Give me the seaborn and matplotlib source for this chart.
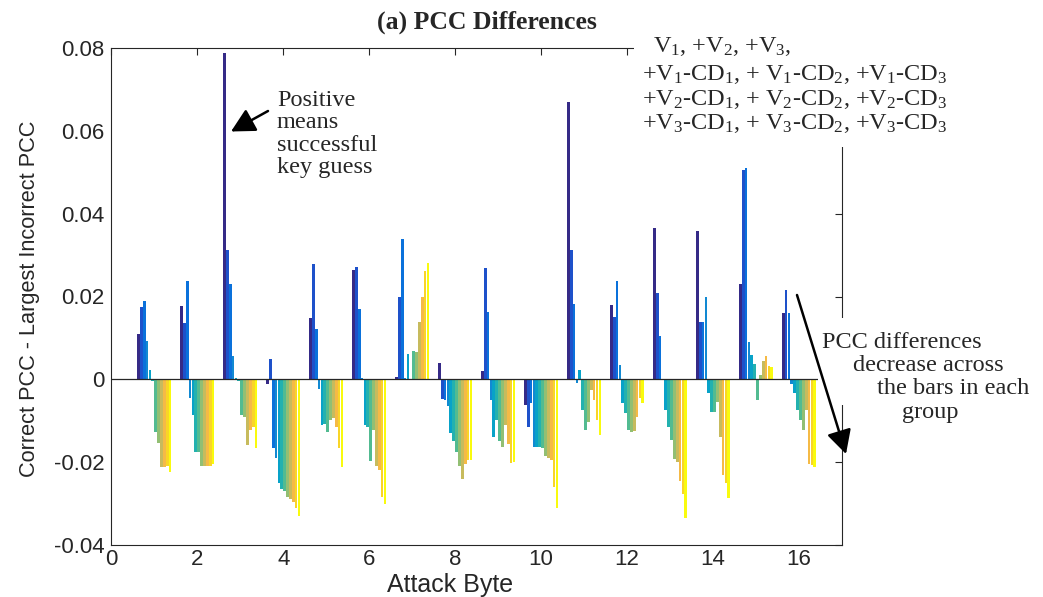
import numpy as np
import pandas as pd
import matplotlib
matplotlib.use("Agg")
import matplotlib.pyplot as plt
import seaborn as sns
from matplotlib.colors import LinearSegmentedColormap
from matplotlib.patches import Rectangle, FancyArrowPatch, ArrowStyle

# ---------------- data ----------------
attack_bytes = list(range(1, 17))
series_names = ["V1", "V2", "V3",
                "V1-CD1", "V1-CD2", "V1-CD3",
                "V2-CD1", "V2-CD2", "V2-CD3",
                "V3-CD1", "V3-CD2", "V3-CD3"]

v1 = [0.0110, 0.0176, 0.0788, -0.0012, 0.0149, 0.0265, 0.0006, 0.0039,
      0.0020, -0.0061, 0.0669, 0.0180, 0.0366, 0.0359, 0.0230, 0.0160]
v2 = [0.0174, 0.0137, 0.0312, 0.0050, 0.0279, 0.0272, 0.0200, -0.0047,
      0.0268, -0.0114, 0.0312, 0.0151, 0.0208, 0.0139, 0.0506, 0.0216]
v3 = [0.0189, 0.0238, 0.0229, -0.0165, 0.0121, 0.0171, 0.0339, -0.0050,
      0.0162, -0.0057, 0.0182, 0.0237, 0.0104, 0.0139, 0.0511, 0.0160]
v1_cd1 = [0.0092, -0.0045, 0.0057, -0.0190, -0.0024, 0.0003, 0.0003, -0.0065,
          -0.0050, -0.0163, -0.0008, 0.0034, 0.0002, 0.0200, 0.0091, -0.0012]
v1_cd2 = [0.0023, -0.0086, 0.0003, -0.0250, -0.0110, -0.0110, 0.0061, -0.0130,
          -0.0139, -0.0163, 0.0023, -0.0057, -0.0073, -0.0033, 0.0059, -0.0033]
v1_cd3 = [-0.0005, -0.0175, -0.0005, -0.0265, -0.0108, -0.0114, 0.0002, -0.0150,
          -0.0098, -0.0163, -0.0073, -0.0082, -0.0114, -0.0078, 0.0037, -0.0073]
v2_cd1 = [-0.0126, -0.0175, -0.0086, -0.0270, -0.0127, -0.0196, 0.0069, -0.0175,
          -0.0150, -0.0165, -0.0122, -0.0122, -0.0147, -0.0078, -0.0049, -0.0098]
v2_cd2 = [-0.0153, -0.0210, -0.0090, -0.0285, -0.0098, -0.0122, 0.0065, -0.0210,
          -0.0163, -0.0185, -0.0102, -0.0126, -0.0192, -0.0055, 0.0010, -0.0122]
v2_cd3 = [-0.0212, -0.0210, -0.0159, -0.0290, -0.0094, -0.0210, 0.0139, -0.0240,
          -0.0110, -0.0190, -0.0025, -0.0125, -0.0200, -0.0140, 0.0045, -0.0073]
v3_cd1 = [-0.0212, -0.0210, -0.0122, -0.0295, -0.0114, -0.0220, 0.0200, -0.0205,
          -0.0155, -0.0195, -0.0049, -0.0090, -0.0245, -0.0230, 0.0057, -0.0204]
v3_cd2 = [-0.0210, -0.0210, -0.0114, -0.0310, -0.0167, -0.0285, 0.0261, -0.0195,
          -0.0202, -0.0260, -0.0098, -0.0045, -0.0277, -0.0250, 0.0033, -0.0208]
v3_cd3 = [-0.0224, -0.0205, -0.0167, -0.0330, -0.0212, -0.0300, 0.0282, -0.0195,
          -0.0200, -0.0310, -0.0135, -0.0057, -0.0335, -0.0286, 0.0029, -0.0212]

x_ticks = [0, 2, 4, 6, 8, 10, 12, 14, 16]
x_tick_labels = ["0", "2", "4", "6", "8", "10", "12", "14", "16"]
y_ticks = [-0.04, -0.02, 0.0, 0.02, 0.04, 0.06, 0.08]
y_tick_labels = ["-0.04", "-0.02", "0", "0.02", "0.04", "0.06", "0.08"]

title_text = "(a) PCC Differences"
x_label = "Attack Byte"
y_label = "Correct PCC - Largest Incorrect PCC"
legend_lines = [
    "V$_1$, +V$_2$, +V$_3$,",
    "+V$_1$-CD$_1$, + V$_1$-CD$_2$, +V$_1$-CD$_3$",
    "+V$_2$-CD$_1$, + V$_2$-CD$_2$, +V$_2$-CD$_3$",
    "+V$_3$-CD$_1$, + V$_3$-CD$_2$, +V$_3$-CD$_3$",
]
positive_lines = ["Positive", "means", "successful", "key guess"]
decrease_lines = ["PCC differences", "decrease across", "the bars in each", "group"]

# ---------------- style ----------------
sns.set_style("white")
plt.rcParams["font.family"] = ["Liberation Sans", "DejaVu Sans"]
plt.rcParams["mathtext.fontset"] = "custom"
plt.rcParams["mathtext.rm"] = "Liberation Serif"
plt.rcParams["mathtext.it"] = "Liberation Serif:italic"
plt.rcParams["mathtext.bf"] = "Liberation Serif:bold"
plt.rcParams["mathtext.default"] = "rm"
SERIF = ["Liberation Serif", "DejaVu Serif"]
axis_gray = (0.15, 0.15, 0.15)
NOTE_SIZE = 17.5

parula_anchors = [
    (0.2081, 0.1663, 0.5292), (0.1959, 0.2645, 0.7279), (0.0117, 0.3875, 0.8820),
    (0.0793, 0.5200, 0.8312), (0.0228, 0.6535, 0.7768), (0.2178, 0.7250, 0.6193),
    (0.5709, 0.7485, 0.4494), (0.8507, 0.7299, 0.3360), (0.9739, 0.7314, 0.2666),
    (0.9880, 0.8066, 0.1794), (0.9589, 0.8949, 0.1132), (0.9763, 0.9831, 0.0538),
]
parula_pos = [0, 4/63, 8/63, 16/63, 24/63, 32/63, 40/63, 48/63, 52/63, 56/63, 60/63, 1.0]
parula = LinearSegmentedColormap.from_list("parula", list(zip(parula_pos, parula_anchors)))
palette = [parula(i / 11) for i in range(12)]

series_values = [v1, v2, v3, v1_cd1, v1_cd2, v1_cd3, v2_cd1, v2_cd2, v2_cd3,
                 v3_cd1, v3_cd2, v3_cd3]
df = pd.DataFrame({
    "byte": np.tile(attack_bytes, len(series_names)),
    "series": np.repeat(series_names, len(attack_bytes)),
    "diff": np.concatenate(series_values),
})

W, H = 1043, 597
fig = plt.figure(figsize=(W / 100, H / 100), dpi=100)
ax = fig.add_axes([111.3 / W, 1 - 545 / H, (842 - 111.3) / W, (545 - 48) / H])

sns.barplot(data=df, x="byte", y="diff", hue="series", hue_order=series_names,
            palette=palette, native_scale=True, width=0.8, gap=0.05,
            errorbar=None, legend=False, saturation=1, linewidth=0, ax=ax)

ax.axhline(0, color=axis_gray, lw=0.9, zorder=3)
ax.set_xlim(0, 17)
ax.set_ylim(-0.04, 0.08)
ax.set_xticks(x_ticks)
ax.set_xticklabels(x_tick_labels)
ax.set_yticks(y_ticks)
ax.set_yticklabels(y_tick_labels)
ax.tick_params(direction="in", top=True, right=True, length=5, width=0.8,
               colors=axis_gray, labelsize=16, pad=3)
ax.tick_params(axis="y", pad=5)
for s in ax.spines.values():
    s.set_visible(True)
    s.set_color(axis_gray)
    s.set_linewidth(0.8)
ax.set_xlabel(x_label, fontsize=18, color=axis_gray)
ax.set_ylabel(y_label, fontsize=15.7, color=axis_gray)
ax.xaxis.set_label_coords(0.463, -0.056)
ax.yaxis.set_label_coords(-0.098, 0.495)


def fx(px):
    return px / W


def fy(py):
    return 1 - py / H


# title
fig.text(fx(487), fy(22), title_text, ha="center", va="center", fontsize=18.5,
         fontweight="bold", family=SERIF)

# white legend panel covering the top-right corner of the axes
fig.add_artist(Rectangle((fx(634), fy(147)), (965 - 634) / W, (147 - 18) / H,
                         transform=fig.transFigure, facecolor="white",
                         edgecolor="none", zorder=5))
legend_pos = [(653, 52), (642, 80), (642, 105), (642, 129)]
for txt, (px, py) in zip(legend_lines, legend_pos):
    fig.text(fx(px), fy(py), txt, ha="left", va="baseline", fontsize=NOTE_SIZE,
             family=SERIF, zorder=6)

# white panel behind right-hand note
fig.add_artist(Rectangle((fx(818), fy(405)), (1000 - 818) / W, (405 - 318) / H,
                         transform=fig.transFigure, facecolor="white",
                         edgecolor="none", zorder=5))
decrease_pos = [(822, 348), (853, 371), (877, 394), (902, 418)]
for txt, (px, py) in zip(decrease_lines, decrease_pos):
    fig.text(fx(px), fy(py), txt, ha="left", va="baseline", fontsize=NOTE_SIZE,
             family=SERIF, zorder=6)

positive_pos = [(277, 106), (277, 128), (277, 151), (277, 173)]
for txt, (px, py) in zip(positive_lines, positive_pos):
    fig.text(fx(px), fy(py), txt, ha="left", va="baseline", fontsize=NOTE_SIZE,
             family=SERIF, zorder=6)

head = ArrowStyle("-|>", head_length=0.8, head_width=0.42)
fig.add_artist(FancyArrowPatch((fx(268), fy(111)), (fx(231), fy(131.5)),
                               transform=fig.transFigure, arrowstyle=head,
                               mutation_scale=18, lw=1.8, color="black",
                               shrinkA=0, shrinkB=0, zorder=7))
fig.add_artist(FancyArrowPatch((fx(797), fy(295)), (fx(846), fy(454)),
                               transform=fig.transFigure, arrowstyle=head,
                               mutation_scale=18, lw=1.8, color="black",
                               shrinkA=0, shrinkB=0, zorder=7))

fig.savefig("out.png", dpi=100)
